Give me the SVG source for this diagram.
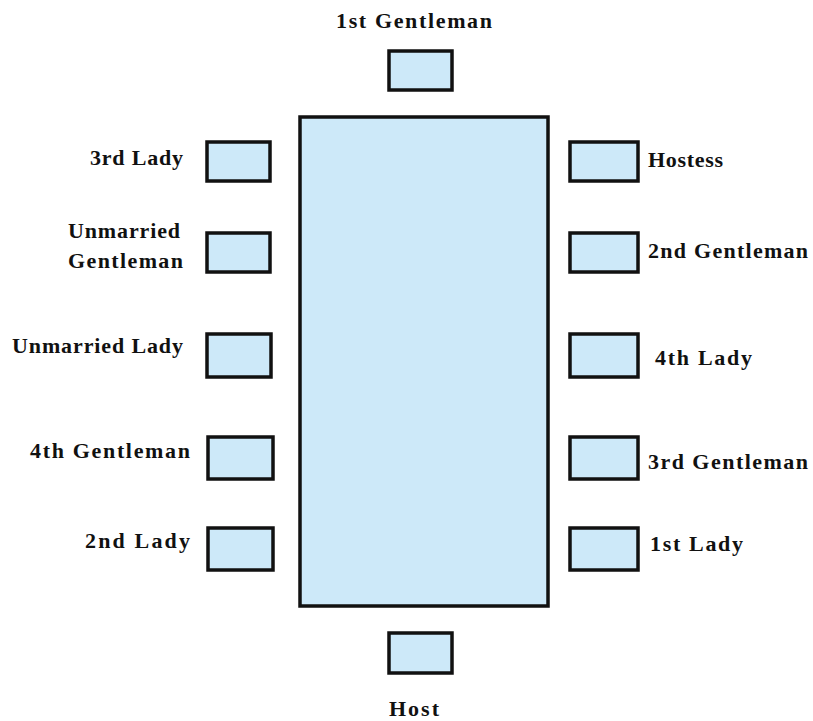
<svg xmlns="http://www.w3.org/2000/svg" width="813" height="721" viewBox="0 0 813 721">
<style>
.seat{fill:#cde9f9;stroke:#111;stroke-width:3.5}
.table{fill:#cde9f9;stroke:#111;stroke-width:3.5}
.lbl{font-family:"Liberation Serif","DejaVu Serif",serif;font-weight:bold;font-size:22px;fill:#111}
.r{text-anchor:end}
.m{text-anchor:middle}
</style>
<rect width="813" height="721" fill="#fff"/>
<g id="table"><rect class="table" x="300" y="117" width="248" height="489"/></g>
<g id="first-gentleman"><rect class="seat" x="389" y="51" width="63" height="39"/><text class="lbl" x="336" y="28" textLength="156" lengthAdjust="spacing">1st Gentleman</text></g>
<g id="host"><rect class="seat" x="389" y="633" width="63" height="40"/><text class="lbl" x="389" y="716" textLength="50" lengthAdjust="spacing">Host</text></g>
<g id="third-lady"><rect class="seat" x="207" y="142" width="63" height="39"/><text class="lbl" x="90" y="165" textLength="93" lengthAdjust="spacing">3rd Lady</text></g>
<g id="unmarried-gentleman"><rect class="seat" x="207" y="233" width="63" height="39"/><text class="lbl" x="68" y="238" textLength="112" lengthAdjust="spacing">Unmarried</text><text class="lbl" x="68" y="268" textLength="115" lengthAdjust="spacing">Gentleman</text></g>
<g id="unmarried-lady"><rect class="seat" x="207" y="334" width="64" height="43"/><text class="lbl" x="12" y="353" textLength="171" lengthAdjust="spacing">Unmarried Lady</text></g>
<g id="fourth-gentleman"><rect class="seat" x="208" y="437" width="65" height="42"/><text class="lbl" x="30" y="458" textLength="160" lengthAdjust="spacing">4th Gentleman</text></g>
<g id="second-lady"><rect class="seat" x="208" y="528" width="65" height="42"/><text class="lbl" x="85" y="548" textLength="105" lengthAdjust="spacing">2nd Lady</text></g>
<g id="hostess"><rect class="seat" x="570" y="142" width="68" height="39"/><text class="lbl" x="648" y="167" textLength="75" lengthAdjust="spacing">Hostess</text></g>
<g id="second-gentleman"><rect class="seat" x="570" y="233" width="68" height="39"/><text class="lbl" x="648" y="258" textLength="160" lengthAdjust="spacing">2nd Gentleman</text></g>
<g id="fourth-lady"><rect class="seat" x="570" y="334" width="68" height="43"/><text class="lbl" x="655" y="365" textLength="97" lengthAdjust="spacing">4th Lady</text></g>
<g id="third-gentleman"><rect class="seat" x="570" y="437" width="68" height="42"/><text class="lbl" x="648" y="469" textLength="160" lengthAdjust="spacing">3rd Gentleman</text></g>
<g id="first-lady"><rect class="seat" x="570" y="528" width="68" height="42"/><text class="lbl" x="650" y="551" textLength="93" lengthAdjust="spacing">1st Lady</text></g>
<g id="connectors"></g>
</svg>
